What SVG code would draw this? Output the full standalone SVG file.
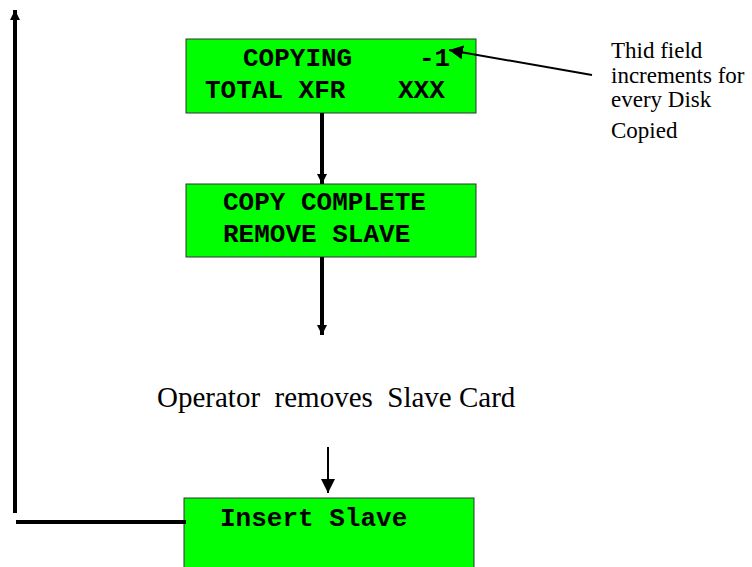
<svg xmlns="http://www.w3.org/2000/svg" width="752" height="567" viewBox="0 0 752 567">
  <style>
    .lcd { fill: #00ff00; stroke: #333333; stroke-width: 1; }
    .mono { font-family: "Liberation Mono", "Courier New", monospace; font-weight: bold; font-size: 26px; fill: #000000; }
    .serif { font-family: "Liberation Serif", "Times New Roman", serif; fill: #000000; }
    .thick { stroke: #000000; stroke-width: 4; fill: none; }
    .thin { stroke: #000000; stroke-width: 2; fill: none; }
  </style>
  <defs>
    <marker id="headThick" viewBox="0 0 10 10" refX="10" refY="5" markerWidth="2.6" markerHeight="2.6" markerUnits="strokeWidth" orient="auto">
      <path d="M0,0 L10,5 L0,10 Z" fill="#000000"/>
    </marker>
    <marker id="headThin" viewBox="0 0 10 10" refX="10" refY="5" markerWidth="7" markerHeight="7.5" markerUnits="strokeWidth" orient="auto">
      <path d="M0,0 L10,5 L0,10 Z" fill="#000000"/>
    </marker>
  </defs>

  <g id="copying">
    <rect class="lcd" x="186" y="39" width="290" height="74"/>
    <text class="mono" x="243" y="66">COPYING</text>
    <text class="mono" x="419" y="66">-1</text>
    <text class="mono" x="205" y="98">TOTAL XFR</text>
    <text class="mono" x="398" y="98">XXX</text>
  </g>

  <g id="copy-complete">
    <rect class="lcd" x="186" y="184" width="290" height="73"/>
    <text class="mono" x="223" y="210">COPY COMPLETE</text>
    <text class="mono" x="223" y="242">REMOVE SLAVE</text>
  </g>

  <g id="operator">
    <text class="serif" x="157" y="407" font-size="29" xml:space="preserve">Operator  removes  Slave Card</text>
  </g>

  <g id="insert-slave">
    <rect class="lcd" x="184" y="498" width="290" height="75"/>
    <text class="mono" x="220" y="526">Insert Slave</text>
  </g>

  <g id="note">
    <text class="serif" font-size="23">
      <tspan x="611" y="58">Thid field</tspan>
      <tspan x="611" y="83">increments for</tspan>
      <tspan x="611" y="107">every Disk</tspan>
      <tspan x="611" y="138">Copied</tspan>
    </text>
  </g>

  <!-- connectors drawn last so arrowheads sit on top of the boxes -->
  <g id="connectors">
    <line class="thick" x1="322" y1="113" x2="322" y2="184" marker-end="url(#headThick)"/>
    <line class="thick" x1="322" y1="257" x2="322" y2="335" marker-end="url(#headThick)"/>
    <line class="thin" x1="328" y1="447" x2="328" y2="493" marker-end="url(#headThin)"/>
    <line class="thick" x1="186" y1="522" x2="16" y2="522"/>
    <line class="thick" x1="15" y1="513" x2="15" y2="10" marker-end="url(#headThick)"/>
    <line class="thin" x1="592" y1="75" x2="449" y2="50" marker-end="url(#headThin)"/>
  </g>
</svg>
